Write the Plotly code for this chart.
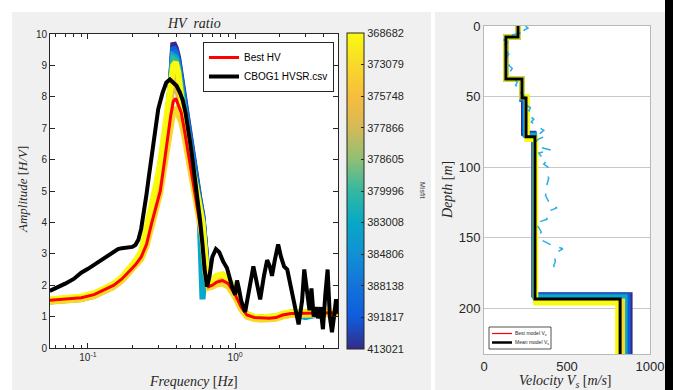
import math
import plotly.graph_objects as go
from plotly.colors import sample_colorscale

# ---------------- HV ratio data ----------------
freq_hz = [0.055, 0.07, 0.09, 0.11, 0.13, 0.15, 0.17, 0.19, 0.21, 0.23,
           0.25, 0.27, 0.29, 0.31, 0.33, 0.35, 0.365, 0.38, 0.395, 0.41,
           0.43, 0.45, 0.48, 0.51, 0.54, 0.57, 0.60, 0.63, 0.66, 0.70,
           0.75, 0.82, 0.90, 1.0, 1.1, 1.2, 1.35, 1.5, 1.7, 1.9,
           2.1, 2.4, 3.0, 4.0, 5.0]

best_hv = [1.52, 1.55, 1.60, 1.70, 1.85, 2.00, 2.20, 2.45, 2.65, 2.90,
           3.30, 3.95, 4.50, 5.00, 5.90, 6.80, 7.40, 7.85, 7.95, 7.75,
           7.50, 7.00, 6.20, 5.35, 4.70, 4.10, 3.30, 2.30, 1.95, 2.00,
           2.10, 2.15, 2.05, 1.70, 1.30, 1.05, 0.97, 0.95, 0.95, 0.97,
           1.05, 1.10, 1.10, 1.10, 1.12]

# misfit value -> HV curve of that inverted model (worst first)
hv_models = {
    413021: [1.50, 1.53, 1.58, 1.68, 1.83, 1.98, 2.18, 2.43, 2.68, 2.98,
             3.45, 4.10, 4.80, 5.55, 6.45, 7.40, 8.30, 9.72, 9.55, 9.25,
             8.60, 7.85, 6.90, 6.00, 5.30, 4.80, 4.20, 2.90, 2.00, 2.10,
             2.25, 2.30, 2.15, 1.75, 1.32, 1.05, 0.97, 0.95, 0.95, 0.98,
             1.06, 1.11, 1.12, 1.12, 1.14],
    391817: [1.53, 1.56, 1.62, 1.72, 1.87, 2.03, 2.23, 2.48, 2.73, 3.02,
             3.55, 4.20, 4.90, 5.62, 6.50, 7.45, 8.35, 9.58, 9.45, 9.15,
             8.50, 7.80, 6.85, 5.95, 5.25, 4.75, 4.15, 2.85, 1.98, 2.12,
             2.28, 2.33, 2.18, 1.77, 1.34, 1.07, 0.99, 0.97, 0.97, 1.00,
             1.08, 1.13, 1.13, 1.13, 1.15],
    388138: [1.49, 1.52, 1.57, 1.67, 1.82, 1.97, 2.17, 2.42, 2.67, 2.96,
             3.48, 4.15, 4.85, 5.58, 6.50, 7.45, 8.30, 9.45, 9.35, 9.05,
             8.40, 7.70, 6.80, 5.90, 5.20, 4.70, 4.10, 2.80, 1.96, 2.08,
             2.24, 2.28, 2.14, 1.74, 1.31, 1.05, 0.97, 0.95, 0.95, 0.98,
             1.06, 1.10, 1.11, 1.11, 1.13],
    383008: [1.51, 1.54, 1.60, 1.70, 1.85, 2.01, 2.21, 2.46, 2.71, 3.00,
             3.60, 4.25, 4.95, 5.65, 6.55, 7.50, 8.30, 9.30, 9.25, 8.95,
             8.30, 7.60, 6.70, 5.85, 5.15, 4.60, 1.55, 2.60, 1.96, 2.10,
             2.26, 2.30, 2.16, 1.75, 1.32, 1.06, 0.98, 0.96, 0.96, 0.99,
             1.07, 1.11, 0.98, 1.11, 1.13],
    379996: [1.48, 1.51, 1.56, 1.66, 1.81, 1.96, 2.16, 2.41, 2.66, 2.95,
             3.55, 4.25, 4.95, 5.68, 6.60, 7.55, 8.35, 9.20, 9.15, 8.85,
             8.20, 7.50, 6.65, 5.85, 5.15, 4.65, 4.00, 2.75, 1.97, 2.10,
             2.24, 2.29, 2.15, 1.74, 1.31, 1.05, 0.97, 0.95, 0.95, 0.98,
             1.06, 1.10, 1.11, 1.11, 1.13],
    377866: [1.52, 1.55, 1.61, 1.71, 1.86, 2.02, 2.22, 2.48, 2.73, 3.02,
             3.65, 4.35, 5.05, 5.75, 6.60, 7.45, 8.05, 8.40, 8.35, 8.10,
             7.60, 7.00, 6.25, 5.55, 4.95, 4.45, 3.75, 2.55, 1.95, 2.06,
             2.20, 2.25, 2.12, 1.73, 1.31, 1.05, 0.97, 0.95, 0.95, 0.98,
             1.06, 1.10, 1.11, 1.11, 1.13],
    375748: [1.50, 1.53, 1.59, 1.69, 1.84, 2.00, 2.21, 2.47, 2.72, 3.00,
             3.60, 4.30, 5.00, 5.70, 6.60, 7.50, 8.20, 8.70, 8.75, 8.40,
             7.75, 7.10, 6.35, 5.65, 5.05, 4.55, 3.85, 2.65, 1.98, 2.08,
             2.22, 2.28, 2.15, 1.74, 1.32, 1.05, 0.97, 0.95, 0.95, 0.98,
             1.06, 1.11, 1.11, 1.11, 1.13],
    373079: [1.47, 1.50, 1.55, 1.65, 1.80, 1.95, 2.14, 2.38, 2.58, 2.83,
             3.25, 3.85, 4.40, 4.95, 5.75, 6.60, 7.20, 7.55, 7.60, 7.45,
             7.20, 6.80, 6.10, 5.40, 4.80, 4.25, 3.50, 2.40, 1.92, 1.95,
             2.02, 2.05, 1.95, 1.62, 1.22, 1.00, 0.92, 0.90, 0.90, 0.93,
             1.00, 1.05, 1.06, 1.06, 1.08],
    368682: [1.55, 1.58, 1.64, 1.74, 1.89, 2.05, 2.26, 2.52, 2.78, 3.08,
             3.80, 4.50, 5.20, 5.90, 6.80, 7.70, 8.40, 9.00, 9.10, 8.80,
             8.00, 7.30, 6.50, 5.80, 5.20, 4.70, 4.00, 2.80, 2.00, 2.15,
             2.30, 2.35, 2.20, 1.78, 1.35, 1.08, 1.00, 0.98, 0.98, 1.01,
             1.09, 1.14, 1.14, 1.14, 1.16],
}

# measured curve (CBOG1 HVSR.csv)
meas_freq = [0.055, 0.06, 0.07, 0.08, 0.09, 0.10, 0.11, 0.12, 0.13, 0.14,
             0.15, 0.16, 0.17, 0.18, 0.19, 0.20, 0.21, 0.22, 0.23, 0.24,
             0.25, 0.26, 0.27, 0.28, 0.29, 0.30, 0.32, 0.34, 0.36, 0.38,
             0.40, 0.42, 0.44, 0.46, 0.48, 0.50, 0.52, 0.54, 0.56, 0.58,
             0.60, 0.62, 0.645, 0.67, 0.70, 0.74, 0.78, 0.83, 0.88, 0.92,
             0.96, 1.0, 1.03, 1.06, 1.1, 1.17, 1.25, 1.33, 1.4, 1.48,
             1.57, 1.65, 1.72, 1.78, 1.86, 1.96, 2.05, 2.15, 2.26, 2.4,
             2.55, 2.7, 2.85, 2.95, 3.08, 3.2, 3.3, 3.42, 3.55, 3.65,
             3.8, 3.95, 4.1, 4.25, 4.4, 4.55, 4.7, 4.85, 5.0]
meas_amp = [1.82, 1.90, 2.05, 2.20, 2.40, 2.52, 2.65, 2.78, 2.90, 3.00,
            3.10, 3.15, 3.18, 3.20, 3.20, 3.22, 3.28, 3.45, 3.80, 4.30,
            4.90, 5.50, 6.10, 6.70, 7.20, 7.60, 8.10, 8.45, 8.55, 8.45,
            8.35, 8.15, 7.90, 7.50, 7.00, 6.40, 5.80, 5.20, 4.70, 4.00,
            3.30, 2.50, 1.95, 2.30, 2.90, 3.15, 3.05, 2.75, 2.55, 2.20,
            1.90, 1.70, 2.15, 1.90, 1.50, 1.15, 1.90, 2.60, 2.10, 1.55,
            2.30, 2.80, 2.60, 2.30, 2.80, 3.30, 2.90, 2.60, 2.50, 1.90,
            1.40, 0.75, 1.50, 2.50, 1.80, 1.20, 1.90, 1.00, 1.30, 0.95,
            1.30, 0.60, 1.70, 2.50, 1.00, 0.50, 1.00, 1.55, 1.10]

misfit_ticks = [368682, 373079, 375748, 377866, 378605, 379996,
                383008, 384806, 388138, 391817, 413021]
freq_tickvals = [0.1, 1]
freq_ticktext = ["10<sup>-1</sup>", "10<sup>0</sup>"]
freq_minor = [0.06, 0.07, 0.08, 0.09, 0.2, 0.3, 0.4, 0.5, 0.6, 0.7,
              0.8, 0.9, 2, 3, 4, 5]

# ---------------- Vs profile data ----------------
# misfit -> (layer velocities [m/s], interface depths [m])
vs_models = {
    413021: ([205, 132, 229, 238, 300, 880], [7.8, 37.5, 52, 76, 190.5]),
    391817: ([205, 132, 229, 244, 302, 868], [7.8, 37.5, 52, 76.5, 191]),
    383008: ([205, 132, 229, 250, 305, 850], [7.8, 37.5, 51, 77.5, 192]),
    373079: ([205, 132, 229, 258, 310, 835], [7.8, 37.5, 50.5, 79.5, 195]),
    368682: ([205, 132, 229, 260, 312, 805], [7.8, 37.5, 50, 80.5, 196.5]),
}
best_vs = ([205, 132, 229, 254, 308, 818], [7.8, 37.5, 51, 78.5, 193.6])
mean_vs = ([205, 132, 229, 253, 307, 820], [7.8, 37.5, 51, 78.5, 193.6])
max_depth = 232.6
vel_ticks = [0, 500, 1000]
depth_ticks = [0, 50, 100, 150, 200]

meas_depth = [0, 1.5, 3, 4, 6, 8, 10, 12, 14, 16, 18, 20, 22, 25, 28, 30, 32,
              35, 38, 40, 42, 44, 46, 48, 50, 52, 54, 56, 58, 60, 62, 64, 66,
              68, 70, 72, 74, 76, 78, 80, 82, 84, 86, 88, 90, 92, 95, 98, 100,
              104, 108, 112, 116, 120, 124, 127, 129, 131, 134, 137, 140, 143,
              146, 149, 152, 155, 158, 161, 164, 167, 170, 173, 175]
meas_vs = [250, 265, 240, 260, 180, 130, 120, 140, 110, 125, 140, 150, 135,
           165, 150, 170, 160, 175, 185, 200, 190, 215, 205, 230, 245, 240,
           265, 255, 280, 270, 290, 275, 300, 285, 305, 330, 360, 340, 375,
           330, 310, 325, 340, 405, 330, 340, 380, 360, 385, 375, 390, 380,
           385, 370, 390, 400, 440, 395, 375, 380, 307, 330, 345, 330, 350,
           400, 475, 430, 425, 430, 420, 425, 428]

# ---------------- colour scale (parula, low misfit = yellow) ----------------
parula = [[0.0, "#352a87"], [0.1, "#0f5cdd"], [0.2, "#1373d9"],
          [0.3, "#1190d5"], [0.4, "#08a8c6"], [0.5, "#33b8a0"],
          [0.6, "#8fbf75"], [0.7, "#d5ba57"], [0.8, "#f7bd3c"],
          [0.9, "#f8d92a"], [1.0, "#f9fb0e"]]


def misfit_color(m):
    k = misfit_ticks.index(m)
    pos = (len(misfit_ticks) - 1 - k) / (len(misfit_ticks) - 1)
    return sample_colorscale(parula, [pos])[0]


def step_profile(vels, depths):
    xs = list(vels) + [vels[-1]]
    ys = [0] + list(depths) + [max_depth]
    return xs, ys


W, H = 673, 390


def px(x):
    return x / W


def py(y):
    return 1 - y / H


fig = go.Figure()

# model HV curves, worst misfit first so the best end up on top
for m, amp in hv_models.items():
    fig.add_trace(go.Scatter(x=freq_hz, y=amp, mode="lines",
                             line=dict(color=misfit_color(m), width=6),
                             showlegend=False, hoverinfo="skip",
                             xaxis="x", yaxis="y"))

fig.add_trace(go.Scatter(x=freq_hz, y=best_hv, mode="lines", name="Best HV",
                         line=dict(color="#ff0000", width=3), legend="legend",
                         xaxis="x", yaxis="y"))
fig.add_trace(go.Scatter(x=meas_freq, y=meas_amp, mode="lines",
                         name="CBOG1 HVSR.csv",
                         line=dict(color="#000000", width=4), legend="legend",
                         xaxis="x", yaxis="y"))

# colour bar carrier
fig.add_trace(go.Scatter(
    x=[1], y=[-50], mode="markers", showlegend=False, hoverinfo="skip",
    marker=dict(color=[0], cmin=0, cmax=10, colorscale=parula, showscale=True,
                colorbar=dict(
                    x=px(347), xanchor="left", y=py(191), yanchor="middle",
                    xpad=0, ypad=0,
                    lenmode="pixels", len=316, thickness=17,
                    outlinecolor="#262626", outlinewidth=1,
                    tickmode="array", tickvals=list(range(11)),
                    ticktext=[str(v) for v in reversed(misfit_ticks)],
                    ticks="inside", ticklen=3, tickcolor="#262626",
                    tickfont=dict(family="Liberation Sans", size=11,
                                  color="#262626"))),
    xaxis="x", yaxis="y"))

# ---------------- Vs panel ----------------
for m, (v, d) in vs_models.items():
    xs, ys = step_profile(v, d)
    fig.add_trace(go.Scatter(x=xs, y=ys, mode="lines", line_shape="vh",
                             line=dict(color=misfit_color(m), width=5),
                             showlegend=False, hoverinfo="skip",
                             xaxis="x2", yaxis="y2"))

fig.add_trace(go.Scatter(x=meas_vs, y=meas_depth, mode="lines",
                         line=dict(color="#27aee6", width=1.5, dash="dash"),
                         showlegend=False, xaxis="x2", yaxis="y2"))

xs, ys = step_profile(*best_vs)
fig.add_trace(go.Scatter(x=xs, y=ys, mode="lines", line_shape="vh",
                         name="Best model V<sub>s</sub>", showlegend=False,
                         line=dict(color="#ff0000", width=1.5),
                         xaxis="x2", yaxis="y2"))
xs, ys = step_profile(*mean_vs)
fig.add_trace(go.Scatter(x=xs, y=ys, mode="lines", line_shape="vh",
                         name="Mean model V<sub>s</sub>", showlegend=False,
                         line=dict(color="#000000", width=3),
                         xaxis="x2", yaxis="y2"))

tick_font = dict(family="Liberation Sans", size=10, color="#262626")
tick_font_r = dict(family="Liberation Sans", size=13, color="#262626")
serif = "Liberation Serif"


def prect(x0, x1, y0, y1, color, layer="below", **kw):
    return dict(type="rect", xref="paper", yref="paper", x0=px(x0),
                x1=px(x1), y0=py(y1), y1=py(y0), fillcolor=color,
                layer=layer, **kw)


def pline(x0, x1, y, color, width):
    return dict(type="line", xref="paper", yref="paper", x0=px(x0),
                x1=px(x1), y0=py(y), y1=py(y), layer="above",
                line=dict(color=color, width=width))


shapes = [
    prect(12, 431, 12, H, "#f0f0f0", line_width=0),
    prect(435, 665, 12, H, "#f0f0f0", line_width=0),
    prect(50, 338, 34, 348, "white", line_width=0),
    prect(484, 650, 26, 354, "white", line_width=0),
    prect(665, W, 0, H, "black", layer="above", line_width=0),
    # legend box of the Vs panel
    prect(489, 551, 327, 349, "white", layer="above",
          line=dict(color="#262626", width=0.8)),
    pline(492, 512, 333.5, "#ff0000", 1.2),
    pline(492, 512, 342.5, "#000000", 2.5),
]


def label(text, x, y, size, angle=0, family=serif, color="#262626",
          yanchor="middle", xanchor="center"):
    return dict(text=text, x=px(x), y=py(y), xref="paper", yref="paper",
                xanchor=xanchor, yanchor=yanchor, showarrow=False,
                textangle=angle, font=dict(family=family, size=size,
                                           color=color))


annotations = [
    label("<i>HV  ratio</i>", 194, 23, 14),
    label("<i>Frequency</i> [<i>Hz</i>]", 194, 381, 14),
    label("<i>Amplitude</i> [<i>H/V</i>]", 22, 190, 13, angle=-90),
    label("Misfit", 423, 190, 7, angle=90, family="Liberation Sans",
          color="#404040"),
    label("<i>Velocity V<sub>s</sub></i> [<i>m/s</i>]", 565, 371, 14,
          yanchor="top"),
    label("<i>Depth</i> [<i>m</i>]", 447, 190, 14, angle=-90),
    label("Best model V<sub>s</sub>", 513, 333.5, 5,
          family="Liberation Sans", color="#262626", xanchor="left"),
    label("Mean model V<sub>s</sub>", 513, 342.5, 5,
          family="Liberation Sans", color="#262626", xanchor="left"),
]

fig.update_layout(
    width=W, height=H, autosize=False,
    margin=dict(l=0, r=0, t=0, b=0, autoexpand=False),
    paper_bgcolor="white", plot_bgcolor="white",
    shapes=shapes, annotations=annotations,
    xaxis=dict(type="log", domain=[px(50), px(338)], anchor="y",
               automargin=False,
               range=[math.log10(0.0552), math.log10(5.0)],
               tickmode="array", tickvals=freq_tickvals,
               ticktext=freq_ticktext, ticks="inside", ticklen=5,
               tickcolor="#262626", showline=True, linecolor="#262626",
               linewidth=1, mirror="ticks", showgrid=False, zeroline=False,
               tickfont=tick_font,
               minor=dict(tickmode="array", tickvals=freq_minor,
                          ticks="inside", ticklen=3, tickcolor="#262626",
                          showgrid=False)),
    yaxis=dict(domain=[py(348), py(34)], anchor="x", range=[0, 10],
               automargin=False,
               tickmode="linear", tick0=0, dtick=1, ticks="inside",
               ticklen=5, tickcolor="#262626", showline=True,
               linecolor="#262626", linewidth=1, mirror="ticks",
               showgrid=False, zeroline=False, tickfont=tick_font),
    xaxis2=dict(domain=[px(484), px(650)], anchor="y2", range=[0, 1000],
                automargin=False,
                tickmode="array", tickvals=vel_ticks,
                ticktext=[str(v) for v in vel_ticks], ticks="",
                showline=True, linecolor="#b8b8b8", linewidth=1,
                mirror=True, showgrid=False, zeroline=False,
                tickfont=tick_font_r),
    yaxis2=dict(domain=[py(354), py(26)], anchor="x2",
                automargin=False,
                range=[max_depth, 0], tickmode="array",
                tickvals=depth_ticks, ticks="",
                showline=True, linecolor="#b8b8b8", linewidth=1,
                mirror=True, showgrid=True, gridcolor="#c8c8c8",
                gridwidth=1, zeroline=False, tickfont=tick_font_r),
    legend=dict(x=px(203), y=py(42), xanchor="left", yanchor="top",
                bgcolor="white", bordercolor="#262626", borderwidth=1,
                font=dict(family="Liberation Sans", size=10, color="black"),
                itemwidth=30, tracegroupgap=0),
)

fig.write_html("out.html", config={"displayModeBar": False})
